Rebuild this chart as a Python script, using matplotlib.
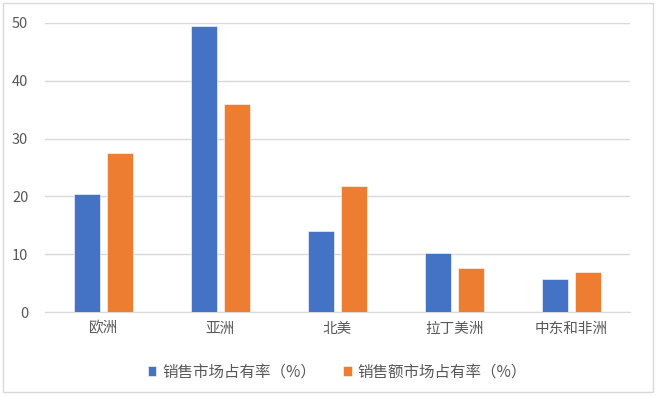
import numpy as np
import matplotlib.pyplot as plt
from matplotlib.patches import Rectangle

plt.rcParams['font.family'] = ['Noto Sans CJK SC', 'DejaVu Sans']

regions = ["欧洲", "亚洲", "北美", "拉丁美洲", "中东和非洲"]
sales_share = [20.4, 49.5, 14.0, 10.2, 5.7]
revenue_share = [27.5, 36.0, 21.8, 7.6, 7.0]
series_names = ["销售市场占有率（%）", "销售额市场占有率（%）"]

fig = plt.figure(figsize=(6.57, 3.96), dpi=100)
ax = fig.add_axes([45 / 657, 84 / 396, 585 / 657, 289 / 396])

x = np.arange(len(regions))
w = 0.23
ax.bar(x - 0.141, sales_share, w, color="#4472C4", edgecolor="white", linewidth=0.4,
       label=series_names[0], zorder=3)
ax.bar(x + 0.141, revenue_share, w, color="#ED7D31", edgecolor="white", linewidth=0.4,
       label=series_names[1], zorder=3)

ax.set_xlim(-0.5, 4.5)
ax.set_ylim(0, 50)
ax.set_yticks(range(0, 51, 10))
ax.set_xticks(x)
ax.set_xticklabels(regions, fontsize=10.8)
ax.yaxis.grid(True, color="#D9D9D9", linewidth=1)
ax.set_axisbelow(True)
for s in ["top", "right", "left"]:
    ax.spines[s].set_visible(False)
ax.spines["bottom"].set_color("#D9D9D9")
ax.tick_params(axis="both", length=0, colors="#595959", labelsize=10.5)
ax.tick_params(axis="x", pad=7)
ax.tick_params(axis="y", pad=12)

ax.legend(loc="upper center", bbox_to_anchor=(0.5, -0.13), ncol=2, frameon=False,
          fontsize=11.2, handlelength=0.55, handleheight=0.55, columnspacing=1.7,
          handletextpad=0.4, labelcolor="#595959")

fig.patches.append(Rectangle((3 / 657, 4 / 396), 650 / 657, 389 / 396, transform=fig.transFigure,
                             fill=False, edgecolor="#D9D9D9", linewidth=1))

fig.savefig("out.png", dpi=100)
